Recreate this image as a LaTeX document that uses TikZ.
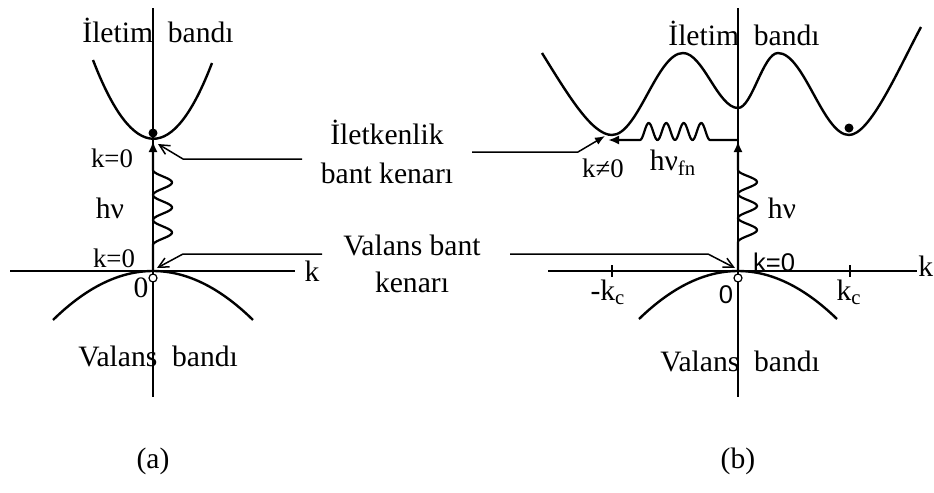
\documentclass[tikz,border=0pt]{standalone}
\usepackage{fontspec}
\setmainfont{Liberation Serif}
\newfontfamily\arialfont{Liberation Sans}
\usetikzlibrary{arrows.meta}

\begin{document}
\begin{tikzpicture}[x=0.5pt, y=-0.5pt,
    axisline/.style={line width=0.6pt},
    band/.style={line width=1.2pt},
    photon/.style={line width=1.1pt, -{Latex[length=5.5pt, width=4.5pt]}},
    pointer/.style={line width=0.75pt, -{Straight Barb[length=5pt, width=5pt]}},
    lbl/.style={font=\fontsize{14.8}{17}\selectfont, inner sep=0pt},
    klbl/.style={font=\fontsize{13.4}{16}\selectfont, inner sep=0pt},
    sanslbl/.style={font=\arialfont\fontsize{12.8}{15}\selectfont, inner sep=0pt},
]
\useasboundingbox (0,0) rectangle (934,493);

% (a): direct gap
\coordinate (originA) at (153,271);
\coordinate (cminA) at (153,141);
\draw[axisline] (10,271) -- (295,271);
\draw[axisline] (153,8) -- (153,397);
\draw[band] (93,60) .. controls (133,164) and (173,165) .. (212,63);
\draw[band] plot[domain=-100:100, samples=60, smooth] ({153+\x},{271+0.0049*\x*\x});
\fill (153,133) circle (4.5);
\draw[axisline, fill=white] (153,278) circle (4);
\draw[photon] (originA) -- (153,245)
    -- plot[domain=75:0, samples=80, smooth] ({153+9.5*(1-cos(14.4*\x))},{170+\x})
    -- (cminA);

\node[lbl, anchor=west] (condA) at (82,30) {İletim\ \ bandı};
\node[lbl, anchor=west] (valA) at (78,356) {Valans\ \ bandı};
\node[klbl] (kzeroAup) at (112,158) {k=0};
\node[klbl] (kzeroAlo) at (114,258) {k=0};
\node[lbl] (hnuA) at (110,208) {hν};
\node[lbl] (zeroA) at (141,288) {0};
\node[lbl] (kaxA) at (312,271) {k};
\node[lbl] (capA) at (153,461) {(a)};

% edge labels in the middle
\node[lbl] (edgeC1) at (387,132) {İletkenlik};
\node[lbl] (edgeC2) at (387,173) {bant kenarı};
\node[lbl] (edgeV1) at (412,245) {Valans bant};
\node[lbl] (edgeV2) at (412,282) {kenarı};

\coordinate (ptrCA) at (302,159);
\coordinate (ptrVA) at (322,254);
\coordinate (ptrCB) at (472,152);
\coordinate (ptrVB) at (510,254);
\draw[pointer] (ptrCA) -- (183,159) -- (158,144);
\draw[pointer] (ptrVA) -- (183,254) -- (157,268);

% (b): indirect gap
\coordinate (originB) at (738,271);
\coordinate (cminB) at (738,141);
\coordinate (sideB) at (738,140);
\coordinate (cvalley) at (608,140);
\draw[axisline] (548,271) -- (917,271);
\draw[axisline] (738,8) -- (738,397);
\draw[axisline] (612,265) -- (612,277);
\draw[axisline] (850,265) -- (850,277);
\draw[band] (542,53) .. controls (568,95) and (592,135) .. (612,135)
    .. controls (638,135) and (657,53) .. (683,53)
    .. controls (703,53) and (718,108) .. (738,108)
    .. controls (752,108) and (763,53) .. (778,53)
    .. controls (804,53) and (823,135) .. (849,135)
    .. controls (870,135) and (898,70) .. (921,27);
\draw[band] plot[domain=-99:99, samples=60, smooth] ({738+\x},{271+0.0049*\x*\x});
\fill (849,128) circle (4.5);
\draw[axisline, fill=white] (738,278) circle (4);
\draw[photon] (originB) -- (738,242)
    -- plot[domain=72:0, samples=80, smooth] ({738+9.5*(1-cos(15*\x))},{170+\x})
    -- (cminB);
\draw[photon] (sideB) -- (710,140)
    -- plot[domain=0:70, samples=80, smooth] ({710-\x},{140-8.5*(1-cos(20.571*\x))})
    -- (cvalley);
\draw[pointer, -{Latex[length=5pt, width=4pt]}] (ptrCB) -- (578,152) -- (605,136);
\draw[pointer] (ptrVB) -- (708,254) -- (735,268);

\node[lbl, anchor=west] (condB) at (668,33) {İletim\ \ bandı};
\node[lbl, anchor=west] (valB) at (660,361) {Valans\ \ bandı};
\node[lbl] (hnuB) at (782,208) {hν};
\node[lbl] (hnufn) at (673,163) {hν\textsubscript{fn}};
\node[klbl] (kneq) at (603,168) {k≠0};
\node[sanslbl] (kzeroB) at (774,262) {k=0};
\node[sanslbl] (zeroB) at (726,295) {0};
\node[lbl] (kcm) at (608,292) {-k\textsubscript{c}};
\node[lbl] (kcp) at (849,292) {k\textsubscript{c}};
\node[lbl, anchor=west] (kaxB) at (918,266) {k};
\node[lbl] (capB) at (738,461) {(b)};

\end{tikzpicture}
\end{document}
